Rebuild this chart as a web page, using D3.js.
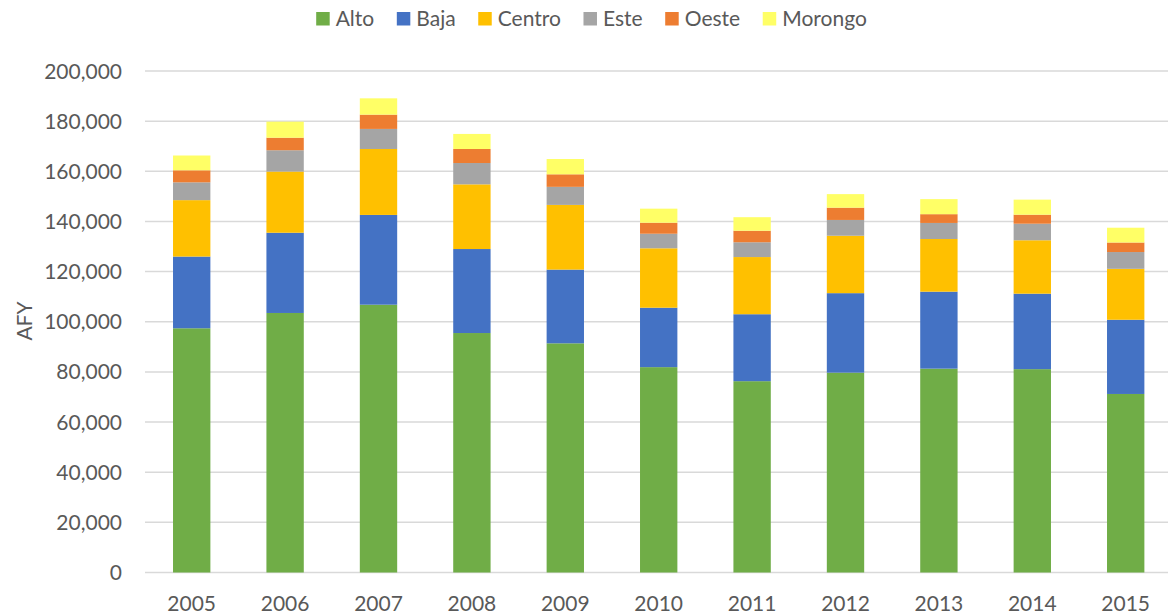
<!DOCTYPE html>
<html>
<head>
<meta charset="utf-8">
<script src="https://cdn.jsdelivr.net/npm/d3@7"></script>
<style>
body { margin: 0; background: #fff; }
text { font-family: Lato, "Open Sans", sans-serif; fill: #595959; }
</style>
</head>
<body>
<svg id="chart" width="1168" height="615"></svg>
<script>
// values in AFY
const years = ['2005','2006','2007','2008','2009','2010','2011','2012','2013','2014','2015'];
const seriesNames = ['Alto','Baja','Centro','Este','Oeste','Morongo'];
const colors = ['#70AD47','#4472C4','#FFC000','#A5A5A5','#ED7D31','#FFFF66'];

const alto    = [97400,103500,106800,95500,91400,81900,76300,79700,81300,81100,71200];
const baja    = [28600,32000,35800,33500,29400,23700,26700,31700,30700,30100,29600];
const centro  = [22500,24400,26300,25800,25800,23700,22800,22900,21000,21300,20300];
const este    = [7100,8500,8000,8500,7200,5800,5900,6300,6400,6600,6700];
const oeste   = [4800,5000,5700,5600,5000,4400,4600,4900,3500,3600,3800];
const morongo = [5900,6400,6500,6000,6100,5600,5400,5400,6000,6000,5900];

const yTicks = d3.range(0, 200001, 20000);

const svg = d3.select('#chart');

const x = d3.scaleBand()
  .domain(years)
  .range([145, 1172.4])
  .paddingInner(0.6)
  .paddingOuter(0.3);

const y = d3.scaleLinear()
  .domain([0, 200000])
  .range([572.5, 71]);

const rows = years.map((yr, i) => ({
  year: yr,
  Alto: alto[i], Baja: baja[i], Centro: centro[i],
  Este: este[i], Oeste: oeste[i], Morongo: morongo[i]
}));

const stacked = d3.stack().keys(seriesNames)(rows);

// gridlines
const grid = svg.append('g');
grid.selectAll('line')
  .data(yTicks)
  .enter()
  .append('line')
  .attr('x1', 145)
  .attr('x2', 1168)
  .attr('y1', d => y(d))
  .attr('y2', d => y(d))
  .attr('stroke', '#d9d9d9')
  .attr('stroke-width', 1.5);

// bars
const layers = svg.append('g');
layers.selectAll('g')
  .data(stacked)
  .enter()
  .append('g')
  .attr('fill', (d, i) => colors[i])
  .selectAll('rect')
  .data(d => d)
  .enter()
  .append('rect')
  .attr('x', d => x(d.data.year))
  .attr('width', x.bandwidth())
  .attr('y', d => y(d[1]))
  .attr('height', d => y(d[0]) - y(d[1]));

// y axis labels
const fmt = d3.format(',');
svg.append('g').selectAll('text')
  .data(yTicks)
  .enter()
  .append('text')
  .attr('x', 122)
  .attr('y', d => y(d))
  .attr('dy', '0.36em')
  .attr('text-anchor', 'end')
  .style('font-size', '21px')
  .text(d => fmt(d));

// x axis labels
svg.append('g').selectAll('text')
  .data(years)
  .enter()
  .append('text')
  .attr('x', d => x(d) + x.bandwidth() / 2)
  .attr('y', 611)
  .attr('text-anchor', 'middle')
  .style('font-size', '21px')
  .text(d => d);

// axis title
svg.append('text')
  .attr('transform', 'translate(32,321) rotate(-90)')
  .attr('text-anchor', 'middle')
  .style('font-size', '21px')
  .text('AFY');

// legend
const legend = svg.append('g');
let lx = 0;
seriesNames.forEach((name, i) => {
  const item = legend.append('g').attr('transform', 'translate(' + lx + ',0)');
  item.append('rect')
    .attr('x', 0).attr('y', 12)
    .attr('width', 13.5).attr('height', 13.5)
    .attr('fill', colors[i]);
  const t = item.append('text')
    .attr('x', 19.5)
    .attr('y', 26)
    .style('font-size', '21px')
    .text(name);
  lx += 19.5 + t.node().getComputedTextLength() + 22.6;
});
const legendWidth = lx - 22.6;
legend.attr('transform', 'translate(' + (591.5 - legendWidth / 2) + ',0)');
</script>
</body>
</html>
